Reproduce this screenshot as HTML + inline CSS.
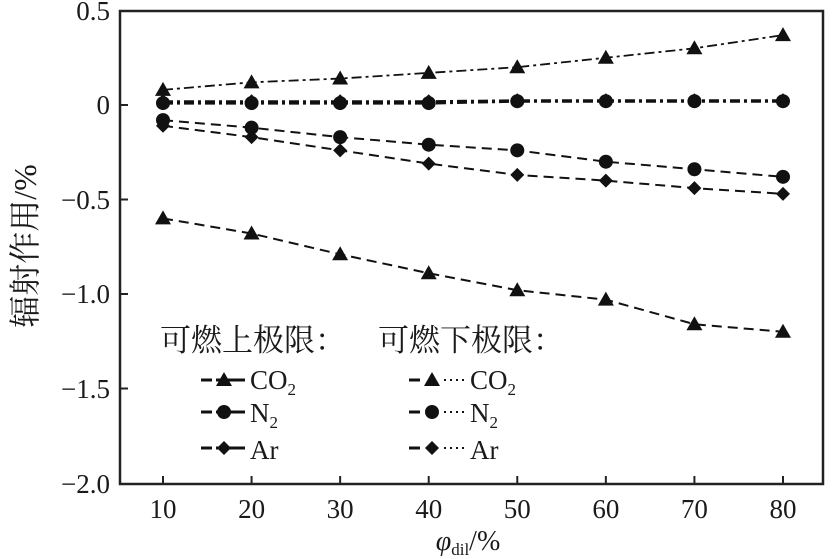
<!DOCTYPE html>
<html><head><meta charset="utf-8"><style>
body{margin:0;background:#fff}
svg{display:block}
text{font-family:"Liberation Serif","Noto Serif CJK SC",serif;fill:#1a1a1a}
</style></head><body>
<svg id="s" width="834" height="559" xmlns="http://www.w3.org/2000/svg">
<rect x="120" y="11" width="703" height="473" fill="none" stroke="#222" stroke-width="2.5"/>
<g font-size="27" text-anchor="end">
<text x="110" y="20">0.5</text>
<text x="110" y="114">0</text>
<text x="110" y="209">−0.5</text>
<text x="110" y="303">−1.0</text>
<text x="110" y="398">−1.5</text>
<text x="110" y="493">−2.0</text>
</g>
<g font-size="27" text-anchor="middle" id="xl"></g>
<text x="0" y="0" font-size="32" transform="translate(36,246) rotate(-90)" text-anchor="middle">辐射作用/%</text>
<text x="468" y="550" font-size="28" text-anchor="middle"><tspan font-style="italic">φ</tspan><tspan font-size="17" dy="5">dil</tspan><tspan dy="-5">/%</tspan></text>
<g font-size="27">
<text x="160" y="351" font-size="31">可燃上极限：</text>
<text x="378" y="351" font-size="31">可燃下极限：</text>
<text x="250" y="389">CO<tspan font-size="17" dy="6">2</tspan></text>
<text x="250" y="422">N<tspan font-size="17" dy="6">2</tspan></text>
<text x="250" y="459">Ar</text>
<text x="470" y="389">CO<tspan font-size="17" dy="6">2</tspan></text>
<text x="470" y="422">N<tspan font-size="17" dy="6">2</tspan></text>
<text x="470" y="459">Ar</text>
</g>
<g id="g"></g>
</svg>
<script>
var ns="http://www.w3.org/2000/svg",s=document.getElementById("g"),xl=document.getElementById("xl");
function X(p){return 163+(p-10)*8.857}
function Y(v){return 105-v*189}
function el(t,a,par){var e=document.createElementNS(ns,t);for(var k in a)e.setAttribute(k,a[k]);(par||s).appendChild(e);return e}
[0,-0.5,-1,-1.5].forEach(function(v){el("line",{x1:120,x2:128,y1:Y(v),y2:Y(v),stroke:"#222","stroke-width":2})});
for(var p=10;p<=80;p+=10){el("line",{x1:X(p),x2:X(p),y1:484,y2:476,stroke:"#222","stroke-width":2});var t=el("text",{x:X(p),y:518},xl);t.textContent=p;}
function mk(type,x,y){
 if(type=="t")el("polygon",{points:(x)+","+(y-8)+" "+(x-8)+","+(y+6)+" "+(x+8)+","+(y+6),fill:"#111"});
 else if(type=="c")el("circle",{cx:x,cy:y,r:7,fill:"#111"});
 else el("polygon",{points:x+","+(y-7)+" "+(x+7)+","+y+" "+x+","+(y+7)+" "+(x-7)+","+y,fill:"#111"});
}
var D=[
 ["t","10,6",[-0.6,-0.68,-0.79,-0.89,-0.98,-1.03,-1.16,-1.2],2],
 ["c","10,6",[-0.08,-0.12,-0.17,-0.21,-0.24,-0.30,-0.34,-0.38],2],
 ["d","10,6",[-0.11,-0.17,-0.24,-0.31,-0.37,-0.40,-0.44,-0.47],2],
 ["t","10,4,3,4",[0.08,0.12,0.14,0.17,0.20,0.25,0.30,0.37],1.8],
 ["c","10,4,3,4",[0.01,0.01,0.01,0.01,0.02,0.02,0.02,0.02],3],
 ["d","10,4,3,4",[0.02,0.02,0.02,0.02,0.025,0.025,0.025,0.025],2]
];
D.forEach(function(d){
 var pts=d[2].map(function(v,i){return X(10+i*10)+","+Y(v)}).join(" ");
 el("polyline",{points:pts,fill:"none",stroke:"#111","stroke-width":d[3],"stroke-dasharray":d[1]});
 d[2].forEach(function(v,i){mk(d[0],X(10+i*10),Y(v))});
});
[[380,"t"],[412,"c"],[448,"d"]].forEach(function(r,i){
 el("line",{x1:201,x2:212,y1:r[0],y2:r[0],stroke:"#111","stroke-width":3});
 el("line",{x1:216,x2:245,y1:r[0],y2:r[0],stroke:"#111","stroke-width":3});
 mk(r[1],224,r[0]);
 el("line",{x1:409,x2:420,y1:r[0],y2:r[0],stroke:"#111","stroke-width":3});
 el("line",{x1:444,x2:466,y1:r[0],y2:r[0],stroke:"#111","stroke-width":2,"stroke-dasharray":"2,4"});
 mk(r[1],432,r[0]);
});
</script>
</body></html>
